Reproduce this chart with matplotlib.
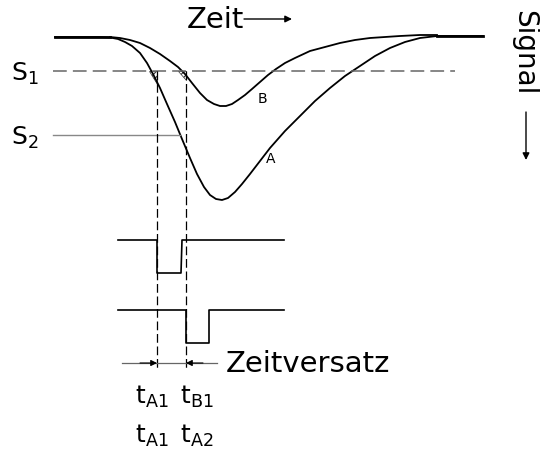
import matplotlib
matplotlib.use('Agg')
import matplotlib.pyplot as plt

a_x = [55, 100, 110, 118, 125, 132, 140, 147, 153, 160, 167, 175, 182, 190, 197,
       204, 210, 216, 222, 228, 235, 242, 250, 260, 270, 285, 300, 315, 330, 345,
       360, 375, 390, 405, 420, 437, 483]
a_y = [37, 37, 37.5, 39, 42, 46, 53, 63, 74, 88, 104, 122, 139, 158, 174,
       187, 195, 199, 200, 198, 192, 184, 174, 161, 148, 131, 116, 101, 88, 76,
       66, 56, 48, 42, 38, 36, 36]
b_x = [110, 120, 130, 140, 150, 160, 170, 178, 185, 192, 200, 207, 214, 220, 226,
       232, 238, 245, 252, 260, 268, 276, 285, 295, 310, 325, 340, 355, 370, 385,
       400, 420, 437]
b_y = [37, 38, 40, 43, 48, 54, 61, 67, 74, 83, 93, 100, 104, 106, 106,
       104, 100, 95, 89, 82, 75, 69, 63, 58, 51, 47, 43, 40, 38, 37,
       36, 35, 35]

s1_level = 71
s2_level = 135
t_a1 = 157
t_b1 = 186
pulse_a = (157, 181)
pulse_b = (186, 209)

plt.rcParams['hatch.linewidth'] = 0.8

fig = plt.figure(figsize=(5.4, 4.54), dpi=100)
ax = fig.add_axes([0, 0, 1, 1])
ax.set_xlim(0, 540)
ax.set_ylim(454, 0)
ax.axis('off')

ax.plot(a_x, a_y, color='black', lw=1.3)
ax.plot(b_x, b_y, color='black', lw=1.3)
ax.plot([55, 110], [37, 37], color='black', lw=2.0)
ax.plot([437, 483], [36, 36], color='black', lw=2.0)

# thresholds
ax.plot([53, 455], [s1_level, s1_level], color='#666666', lw=1.1, dashes=(9, 4))
ax.plot([53, 180], [s2_level, s2_level], color='#888888', lw=1.0)

# hatched triangles
ax.fill([149, t_a1, t_a1], [s1_level, s1_level, 84], facecolor='none',
        edgecolor='#333333', hatch='//////', lw=0.5)
ax.fill([178, t_b1, t_b1], [s1_level, s1_level, 80], facecolor='none',
        edgecolor='#333333', hatch='//////', lw=0.5)

# vertical dashed lines
for xv in (t_a1, t_b1):
    ax.plot([xv, xv], [s1_level, 368], color='black', lw=0.9, dashes=(7, 3))

# pulses
ax.plot([118, pulse_a[0], pulse_a[0], pulse_a[1], 182, 284],
        [240, 240, 273, 273, 240, 240], color='black', lw=1.2)
ax.plot([118, pulse_b[0], pulse_b[0], pulse_b[1], 209, 284],
        [310, 310, 343, 343, 310, 310], color='black', lw=1.2)

# Zeitversatz
ax.plot([122, 217], [363, 363], color='#666666', lw=0.9)
ax.annotate('', xy=(t_a1, 363), xytext=(140, 363),
            arrowprops=dict(arrowstyle='-|>', color='black', lw=0.8,
                            mutation_scale=9, shrinkA=0, shrinkB=0))
ax.annotate('', xy=(t_b1, 363), xytext=(203, 363),
            arrowprops=dict(arrowstyle='-|>', color='black', lw=0.8,
                            mutation_scale=9, shrinkA=0, shrinkB=0))
ax.text(226, 364, 'Zeitversatz', fontsize=21, va='center', ha='left')

# labels
ax.text(11, 74, r'S$_\mathregular{1}$', fontsize=18, va='center')
ax.text(11, 138, r'S$_\mathregular{2}$', fontsize=18, va='center')
ax.text(262, 99, 'B', fontsize=10, va='center', ha='center')
ax.text(271, 159, 'A', fontsize=10, va='center', ha='center')

for xc, yc, sub in [(152, 397, 'A1'), (197, 397, 'B1'),
                    (152, 436, 'A1'), (197, 436, 'A2')]:
    ax.text(xc, yc, r'$\mathregular{t_{%s}}$' % sub, fontsize=18,
            va='center', ha='center')

ax.text(187, 20, 'Zeit', fontsize=21, va='center', ha='left')
ax.annotate('', xy=(292, 19), xytext=(244, 19),
            arrowprops=dict(arrowstyle='-|>', color='black', lw=1.0,
                            mutation_scale=10, shrinkA=0, shrinkB=0))
ax.text(524, 53, 'Signal', fontsize=20, rotation=-90, va='center', ha='center')
ax.annotate('', xy=(526, 160), xytext=(526, 112),
            arrowprops=dict(arrowstyle='-|>', color='black', lw=1.0,
                            mutation_scale=10, shrinkA=0, shrinkB=0))

fig.savefig('out.png', dpi=100)
